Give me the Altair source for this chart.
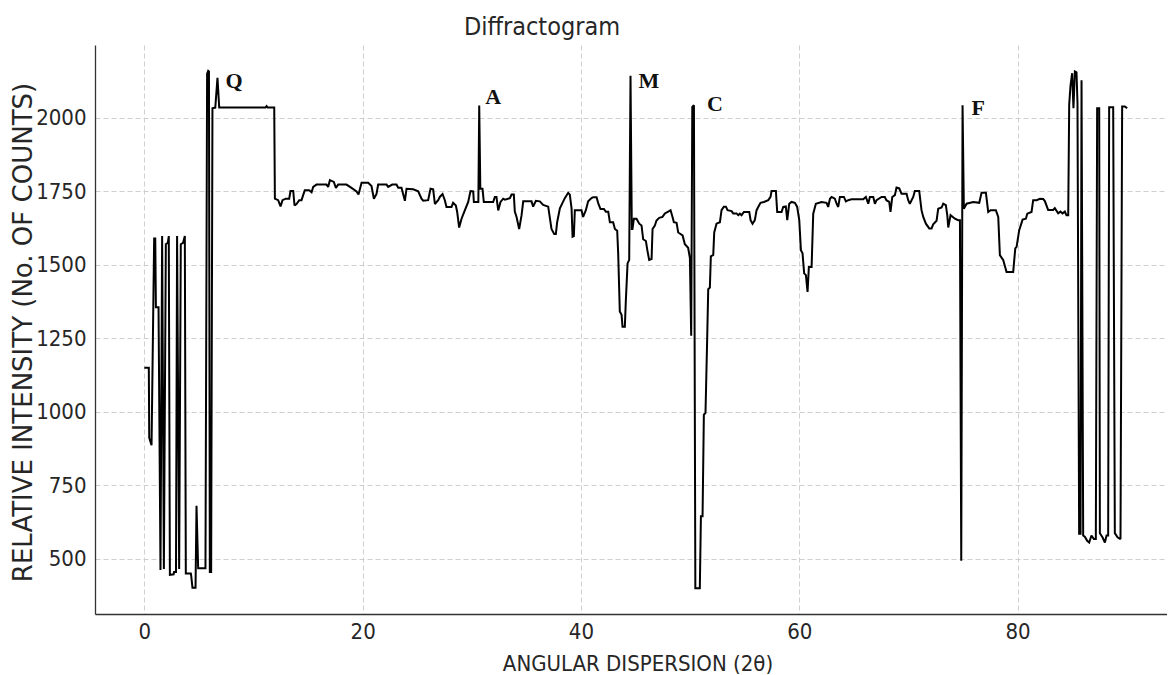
import altair as alt
import pandas as pd

# ---- data ----
angle = [
    0.0, 0.41, 0.45, 0.66, 0.9, 1.0, 1.06, 1.3, 1.48, 1.63, 1.79, 1.97, 2.15, 2.24,
    2.34, 2.68, 2.72, 2.9, 3.0, 3.19, 3.34, 3.55, 3.71, 3.8, 4.26, 4.3, 4.41, 4.69,
    4.78, 4.93, 5.6, 5.75, 5.85, 5.92, 6.0, 6.12, 6.24, 6.5, 6.7, 6.86, 11.1, 11.2,
    11.3, 11.9,
    11.96, 12.26, 12.48, 12.66, 12.96, 13.27, 13.39, 13.64, 13.76, 13.94, 14.19, 14.4,
    14.7, 15.1, 15.32, 15.47, 15.77, 16.69, 16.84, 17.0, 17.36, 17.55, 17.76, 18.52,
    18.98, 19.44, 19.62, 19.9, 20.51, 20.81, 21.03, 21.27, 21.42, 22.19, 22.34, 22.71,
    23.1, 23.26, 23.56, 23.87, 24.02, 24.63, 25.09, 25.39, 25.55, 26.0, 26.22, 26.46,
    26.62, 26.92, 27.07, 27.32, 27.53, 27.68, 28.14, 28.29, 28.54, 28.66, 28.84, 29.06,
    29.36, 29.67, 29.88, 30.13, 30.19, 30.6, 30.68, 30.78, 30.98, 31.1, 31.96, 32.11,
    32.26, 32.42, 32.63, 32.88,
    33.03, 33.49, 33.64, 33.85, 33.94, 34.1, 34.34, 34.56, 34.71, 35.47, 35.62, 35.87,
    36.23, 36.54, 37.0, 37.3, 37.55, 37.7, 37.82, 38.07, 38.52, 38.83, 38.98, 39.14,
    39.23, 39.35, 39.44, 40.05, 40.2, 40.45, 40.66, 40.97, 41.12, 41.43, 41.58, 41.79,
    42.1, 42.28, 42.5, 42.65, 42.95, 43.11, 43.32, 43.41, 43.56, 43.72, 43.81, 44.02,
    44.11, 44.27, 44.42, 44.54, 44.66, 44.72, 44.85, 45.09, 45.34, 45.55, 45.7, 45.95,
    46.1, 46.25, 46.47, 46.56, 46.77, 46.92, 47.17, 47.47, 47.69, 47.99, 48.21, 48.39,
    48.51, 48.76, 48.91, 49.12, 49.31, 49.52, 49.82, 49.98, 50.1, 50.2, 50.35, 50.48,
    50.89, 50.99, 51.14, 51.26, 51.41, 51.57, 51.66, 51.81, 51.9, 52.12, 52.21, 52.42,
    52.73, 52.88, 53.09, 53.28, 53.43, 53.8, 53.95, 54.25, 54.41,
    54.56, 54.71, 54.93, 55.42, 55.54, 55.72, 55.93, 56.09, 56.24, 56.45, 56.76, 57.16,
    57.37, 57.46, 57.86, 57.98, 58.38, 58.53, 58.77, 58.9, 59.08, 59.29, 59.6, 59.81,
    60.0, 60.15, 60.3, 60.45, 60.61, 60.76, 60.88, 61.13, 61.28, 61.52, 62.04, 62.5,
    62.65, 62.81, 62.96, 63.26, 63.42, 63.57, 63.72, 64.09, 64.27, 64.49, 64.79, 65.86,
    66.1, 66.32, 66.47, 66.78, 66.93, 67.08, 67.54, 67.84, 67.98, 68.24, 68.36, 68.52,
    68.76, 68.91, 69.16, 69.37, 69.83, 69.98, 70.13, 70.44, 70.59, 70.99, 71.2, 71.36,
    71.6, 71.91, 72.12, 72.27, 72.58, 72.73, 73.04, 73.19, 73.43, 73.56, 73.65, 73.86,
    74.26, 74.56, 74.72, 74.84, 74.96, 75.08, 75.33, 75.94, 76.49, 76.7, 77.1, 77.31,
    77.53, 78.01, 78.23, 78.38, 78.69, 78.99, 79.6, 79.79, 79.91, 80.15, 80.46, 80.76,
    80.89, 81.28, 81.43, 81.74, 82.05,
    82.35, 82.5, 82.8, 83.26, 83.41, 83.72, 83.93, 84.12, 84.33, 84.48, 84.64, 84.73,
    84.85, 85.0, 85.12, 85.25, 85.4, 85.49, 85.64, 85.77, 85.86, 86.01, 86.16, 86.38,
    86.56, 86.77, 86.99, 87.17, 87.29, 87.48, 87.54, 87.78, 88.0, 88.15, 88.3, 88.39,
    88.76, 88.91, 89.16, 89.43, 89.58, 89.83, 90.04,
]

counts = [
    1150, 1150, 911, 886, 1590, 1590, 1356, 1356, 462, 1598, 465, 1570, 1575, 1598,
    445, 447, 455, 455, 1598, 465, 1570, 1575, 1598, 450, 450, 440, 401, 401,
    680, 468, 468, 2150, 2160, 2158, 455, 455, 2033, 2035, 2136, 2035, 2035, 2040,
    2035, 2035,
    1725, 1720, 1699, 1720, 1725, 1725, 1751, 1751, 1702, 1707, 1720, 1720,
    1754, 1754, 1747, 1765, 1773, 1773, 1765, 1788, 1782, 1762, 1773, 1773,
    1762, 1750, 1739, 1779, 1779, 1768, 1725, 1741, 1773, 1773, 1765, 1773,
    1773, 1762, 1762, 1718, 1759, 1757, 1750, 1725, 1718, 1720, 1759, 1757,
    1707, 1720, 1731, 1741, 1720, 1697, 1697, 1711, 1702, 1680, 1627, 1657,
    1685, 1714, 1751, 1750, 1714, 1714, 2042, 1759, 1759, 1714, 1714, 1731,
    1731, 1685, 1714, 1725,
    1722, 1727, 1739, 1739, 1681, 1663, 1622, 1669, 1716, 1716, 1698, 1718,
    1716, 1704, 1698, 1622, 1605, 1605, 1645, 1692, 1727, 1745, 1739, 1692,
    1596, 1598, 1686, 1686, 1663, 1686, 1716, 1727, 1730, 1730, 1710, 1690,
    1690, 1681, 1681, 1645, 1645, 1622, 1616, 1540, 1341, 1330, 1289, 1289,
    1376, 1505, 1517, 2143, 1622, 1622, 1657, 1657, 1640, 1634, 1587, 1581,
    1546, 1517, 1520, 1622, 1634, 1651, 1660, 1663, 1675, 1681, 1686, 1663,
    1645, 1643, 1610, 1605, 1600, 1570, 1558, 1523, 1259, 2037, 2043, 400,
    400, 645, 645, 990, 996, 1259, 1417, 1423, 1529, 1534, 1610, 1640,
    1645, 1686, 1698, 1698, 1686, 1683, 1675, 1675, 1669,
    1674, 1669, 1680, 1680, 1652, 1640, 1652, 1686, 1697, 1711, 1714, 1720,
    1731, 1751, 1751, 1680, 1680, 1697, 1699, 1652, 1708, 1714, 1711, 1697,
    1652, 1550, 1539, 1471, 1465, 1408, 1493, 1493, 1674, 1708, 1714, 1711,
    1697, 1725, 1731, 1725, 1708, 1697, 1731, 1731, 1716, 1720, 1723, 1723,
    1731, 1708, 1731, 1731, 1708, 1720, 1731, 1731, 1720, 1714, 1680, 1731,
    1737, 1763, 1760, 1742, 1742, 1720, 1708, 1731, 1751, 1751, 1686, 1663,
    1640, 1624, 1624, 1638, 1650, 1691, 1695, 1708, 1703, 1669, 1627, 1669,
    1657, 1652, 1652, 493, 2043, 1691, 1708, 1714, 1711, 1745, 1745, 1680,
    1686, 1686, 1663, 1533, 1516, 1476, 1476, 1556, 1561, 1618, 1654, 1657,
    1674, 1680, 1720, 1720, 1725,
    1724, 1717, 1687, 1687, 1693, 1675, 1681, 1675, 1681, 1669, 1669, 2045,
    2110, 2152, 2033, 2158, 2155, 2050, 585, 585, 2128, 579, 575, 561,
    555, 579, 567, 567, 2033, 2033, 587, 573, 555, 579, 579, 2036,
    2036, 587, 573, 567, 2039, 2039, 2033,
]

peak_labels = ["Q", "A", "M", "C", "F"]
peak_angle = [8.23, 31.95, 46.22, 52.27, 76.4]
peak_count = [2127, 2070, 2127, 2046, 2032]

x_ticks = [0, 20, 40, 60, 80]
y_ticks = [500, 750, 1000, 1250, 1500, 1750, 2000]

# ---- tables ----
df = pd.DataFrame({"angle": angle, "counts": counts})
df["i"] = range(len(df))
lab = pd.DataFrame({"label": peak_labels, "angle": peak_angle, "counts": peak_count})

PLOT_W = 1072
PLOT_H = 569
TEXT = "#262626"
COND = "DejaVu Sans Condensed"

xscale = alt.Scale(domain=[-4.52, 93.69], nice=False, zero=False)
yscale = alt.Scale(domain=[312, 2248], nice=False, zero=False)

xaxis = alt.Axis(
    title="ANGULAR DISPERSION (2θ)", values=x_ticks, format="d",
    grid=True, gridColor="#cfcfcf", gridDash=[5, 3], gridWidth=1,
    domain=True, domainColor="#333333", domainWidth=1.3,
    ticks=False, tickSize=0, labelPadding=7,
    labelFont=COND, labelFontSize=22, labelColor=TEXT,
    titleFont=COND, titleFontSize=22, titleFontWeight="normal", titleColor=TEXT,
    titleX=542.5, titleY=56.5, titleAlign="center", titleBaseline="alphabetic",
)
yaxis = alt.Axis(
    title="RELATIVE INTENSITY (No. OF COUNTS)", values=y_ticks, format="d",
    grid=True, gridColor="#cfcfcf", gridDash=[5, 3], gridWidth=1,
    domain=True, domainColor="#333333", domainWidth=1.3,
    ticks=False, tickSize=0, labelPadding=9,
    labelFont=COND, labelFontSize=22, labelColor=TEXT,
    titleFont="DejaVu Sans", titleFontSize=26, titleFontWeight="normal", titleColor=TEXT,
    titleAngle=270, titleX=-64, titleY=287, titleAlign="center", titleBaseline="alphabetic",
)

line = alt.Chart(df).mark_line(color="#000000", strokeWidth=2, strokeJoin="miter", strokeMiterLimit=2).encode(
    x=alt.X("angle:Q", scale=xscale, axis=xaxis),
    y=alt.Y("counts:Q", scale=yscale, axis=yaxis),
    order=alt.Order("i:Q"),
)

labels = alt.Chart(lab).mark_text(
    font="Liberation Serif", fontWeight="bold", fontSize=22, color="#111111",
    align="center", baseline="middle",
).encode(
    x=alt.X("angle:Q", scale=xscale),
    y=alt.Y("counts:Q", scale=yscale),
    text="label:N",
)

chart = alt.layer(line, labels).properties(
    width=PLOT_W,
    height=PLOT_H,
    background="white",
    title=alt.TitleParams(
        "Diffractogram", font=COND, fontSize=25, fontWeight="normal", color=TEXT,
        anchor="middle", dx=-89, dy=27, baseline="alphabetic", offset=12,
    ),
    autosize=alt.AutoSizeParams(type="none"),
    padding={"left": 87, "top": 37, "right": 0, "bottom": 61},
).configure_view(stroke=None)

chart.save("out.html", embed_options={"renderer": "svg", "actions": False})
